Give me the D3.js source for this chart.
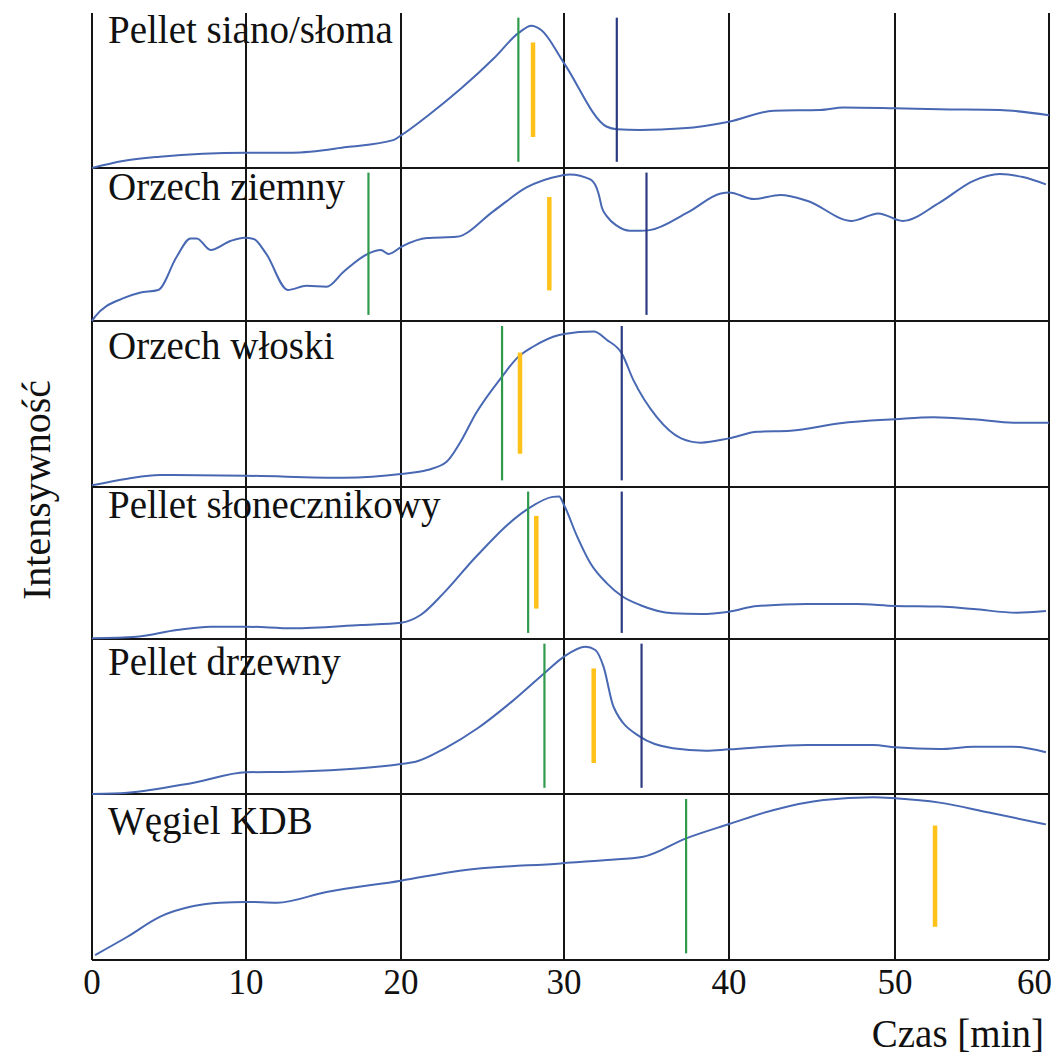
<!DOCTYPE html>
<html>
<head>
<meta charset="utf-8">
<script src="https://cdn.jsdelivr.net/npm/d3@7"></script>
<style>
    body { margin: 0; background: #fff; }
    text { font-family: "Liberation Serif", "Times New Roman", serif; fill: #111; }
</style>
</head>
<body>
<svg id="chart" width="1054" height="1059"></svg>
<script>
// --- data (time [min], relative intensity 0..100 within each panel) ---
var xTicks = [0, 10, 20, 30, 40, 50, 60];
var labels = ["Pellet siano/słoma", "Orzech ziemny", "Orzech włoski", "Pellet słonecznikowy", "Pellet drzewny", "Węgiel KDB"];

var sianoSloma = [[0, 0], [2, 4.5], [4.4, 7.3], [10, 9.9], [13, 9.9], [16.5, 13.5], [19.5, 18], [20, 21], [21.7, 34.2], [23.7, 51.4],
    [25.7, 70.8], [27.2, 87], [28, 91.8], [28.6, 89], [30, 67.7], [32.6, 26.6], [33.2, 25], [34.6, 24.5], [37.2, 25.6], [40, 29.9], [42.7, 37],
    [45.5, 37.4], [46.9, 39], [50, 38.5], [52.9, 37.9], [56.8, 37.4], [60, 34]];
var orzechZiemny = [[0, 0], [0.2, 2.8], [2, 14.8], [3.1, 18.5], [4.3, 20.3], [5.5, 42], [6.4, 54], [6.8, 54], [7.7, 46.4], [9, 52.3],
    [9.9, 54.4], [10.5, 53.6], [11.3, 44], [12.7, 20.3], [13.9, 23], [15.2, 22.4], [16.3, 32.2], [17.8, 43.6], [18.7, 46.4], [19.2, 43.8],
    [20.1, 49], [21.6, 54.2], [23.4, 55], [25.7, 72], [27.7, 87.3], [29.8, 95], [30.35, 95.8], [31.6, 92.5], [32.1, 83], [32.3, 74], [32.6, 68.4],
    [33.2, 62.3], [34, 59], [34.6, 59], [35.2, 59.4], [37.5, 71], [39.5, 83.3], [40, 84], [41.5, 79.7], [43.1, 82.3], [44.7, 78.6],
    [47.4, 65.4], [49, 70.3], [50.5, 65.4], [52.9, 77.4], [55.1, 91.6], [56.8, 96], [58.3, 94.1], [59.8, 89.3]];
var orzechWloski = [[0, 1], [2.3, 5], [4.4, 7.2], [10, 6.8], [16.3, 5.6], [20, 7.8], [21.6, 10.2], [22.8, 15.2], [23.6, 26.3], [24.6, 44.4],
    [26.2, 66.5], [27.1, 77.5], [28.1, 84.5], [29.7, 91.6], [30, 92.2], [31.8, 93.6], [32.6, 88.6], [33.5, 80.5], [34.2, 64.5], [35.6, 42.4],
    [37.1, 29.3], [38.3, 26.7], [40, 29.3], [41.7, 33.3], [43.7, 33.9], [46.7, 38.4], [50, 40.8], [52.5, 42], [55.1, 40.8], [57.7, 38.7], [60, 38.7]];
var sloneczn = [[0, 0.5], [2.9, 1.5], [5.5, 5.9], [7.7, 8.1], [10, 8.1], [13, 7], [17.4, 9.2], [20, 10.7], [21.2, 15.8], [22.6, 30],
    [24.6, 54.1], [27.7, 85], [29.3, 93.5], [29.7, 93.8], [30, 88.2], [30.8, 67.3], [31.6, 49.8], [32.6, 36.6], [33.5, 28.3], [34.6, 22.4],
    [36.6, 16.9], [38.3, 16.4], [40, 18], [41.7, 21.7], [44.7, 23], [47.7, 23], [50, 21.7], [52.9, 21.3], [55.1, 19.7], [57.9, 17.3], [59.8, 18.4]];
var drzewny = [[0, 0], [2.3, 0.8], [6.6, 7.3], [10, 14], [13, 14.4], [17.4, 16.6], [20, 19.4], [20.9, 20.8], [22.7, 29.5], [24.7, 42.4],
    [26.8, 59.6], [28.9, 78.9], [30, 88.6], [31.3, 95], [31.9, 92.9], [32.4, 82], [33, 56.3], [34.6, 37], [36.6, 29.5], [38.6, 27.9], [40, 28.8],
    [44.7, 31.6], [48.7, 31.6], [50, 30.1], [52.9, 29], [55.1, 30.5], [57.7, 30.5], [59.8, 26.9]];
var wegielKDB = [[0.2, 3], [2.3, 14], [4.4, 26], [6.6, 32.5], [8.3, 34.5], [10, 35], [12, 34.5], [15.2, 41], [20, 47.8], [23.6, 53.8],
    [29.8, 58.2], [32.6, 60.2], [34.8, 62.2], [37.4, 73.3], [40, 81.9], [42.7, 90.4], [45.7, 96.4], [48.7, 98], [50, 97.4], [52.9, 94.8],
    [56.1, 88.8], [59.8, 81.7]];
var series = [sianoSloma, orzechZiemny, orzechWloski, sloneczn, drzewny, wegielKDB];

// characteristic times (green, yellow, navy markers)
var greenMarks = [27.2, 17.9, 26.2, 27.8, 28.8, 37.4];
var yellowMarks = [28.1, 29.1, 27.3, 28.3, 31.8, 52.6];
var navyMarks = [33.2, 35.0, 33.5, 33.5, 34.7, null];

// --- layout ---
var panelEdges = [13, 168, 321, 487, 639, 794, 960];
var labelDy = [30, 32, 38, 31, 36, 40];
var svg = d3.select("#chart");
var xScale = d3.scaleLinear().domain(xTicks).range([92, 246, 401, 564, 729, 895, 1049]);
var lineColor = "#4868b3";
var gridColor = "#151515";

var gridG = svg.append("g");
xTicks.forEach(function (t) {
    gridG.append("line")
        .attr("x1", xScale(t)).attr("x2", xScale(t))
        .attr("y1", panelEdges[0]).attr("y2", panelEdges[6])
        .attr("stroke", gridColor).attr("stroke-width", 2);
});
panelEdges.slice(1).forEach(function (y) {
    gridG.append("line")
        .attr("x1", xScale(0)).attr("x2", xScale(60))
        .attr("y1", y).attr("y2", y)
        .attr("stroke", gridColor).attr("stroke-width", 2);
});

series.forEach(function (data, i) {
    var top = panelEdges[i], bottom = panelEdges[i + 1];
    var yScale = d3.scaleLinear().domain([0, 100]).range([bottom, top]);
    var g = svg.append("g").attr("class", "panel");

    g.append("text")
        .attr("x", 108)
        .attr("y", top + labelDy[i])
        .attr("font-size", 39)
        .text(labels[i]);

    var line = d3.line()
        .x(function (d) { return xScale(d[0]); })
        .y(function (d) { return yScale(d[1]); })
        .curve(d3.curveMonotoneX);
    g.append("path")
        .datum(data)
        .attr("d", line)
        .attr("fill", "none")
        .attr("stroke", lineColor)
        .attr("stroke-width", 2);

    var marks = [
        { t: greenMarks[i], color: "#2f9a4c", w: 2.2, lo: 4, hi: 97 },
        { t: yellowMarks[i], color: "#ffc21a", w: 4.5, lo: 20, hi: 81 },
        { t: navyMarks[i], color: "#2c3a82", w: 2.2, lo: 4, hi: 97 }
    ];
    marks.filter(function (m) { return m.t != null; }).forEach(function (m) {
        g.append("line")
            .attr("x1", xScale(m.t)).attr("x2", xScale(m.t))
            .attr("y1", yScale(m.lo)).attr("y2", yScale(m.hi))
            .attr("stroke", m.color)
            .attr("stroke-width", m.w);
    });
});

// x axis labels
svg.append("g").selectAll("text")
    .data(xTicks)
    .enter()
    .append("text")
    .attr("x", function (d) { return xScale(d); })
    .attr("y", 994)
    .attr("font-size", 35)
    .attr("text-anchor", function (d) { return d == 60 ? "end" : "middle"; })
    .attr("dx", function (d) { return d == 60 ? 3 : 0; })
    .text(function (d) { return d; });

svg.append("text")
    .attr("x", 1044)
    .attr("y", 1047)
    .attr("font-size", 39)
    .attr("text-anchor", "end")
    .text("Czas [min]");

svg.append("text")
    .attr("transform", "translate(50,490) rotate(-90)")
    .attr("font-size", 40)
    .attr("text-anchor", "middle")
    .text("Intensywność");
</script>
</body>
</html>
